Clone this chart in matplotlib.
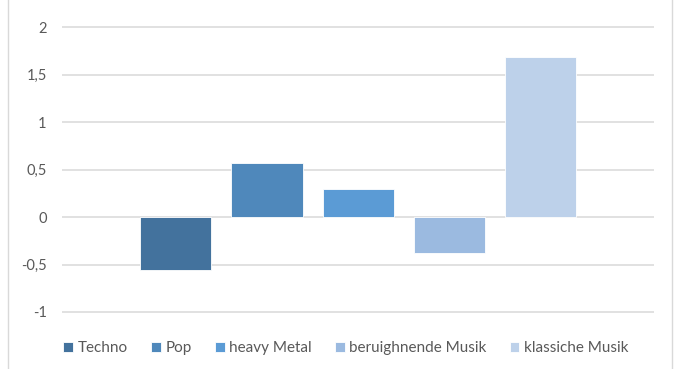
import matplotlib.pyplot as plt
from matplotlib.lines import Line2D
from matplotlib.ticker import FuncFormatter

# Daten
genres = ['Techno', 'Pop', 'heavy Metal', 'beruighnende Musik', 'klassiche Musik']
werte = [-0.56, 0.57, 0.295, -0.38, 1.69]
farben = ['#43729D', '#4F88BB', '#5B9BD5', '#9BBAE0', '#BDD1EA']
yticks = [-1, -0.5, 0, 0.5, 1, 1.5, 2]

plt.rcParams['font.family'] = ['Lato', 'DejaVu Sans']

fig = plt.figure(figsize=(6.74, 3.69), dpi=100)
ax = fig.add_axes([62 / 674, 0.129, (654 - 62) / 674, 0.848])

for i, (g, w, c) in enumerate(zip(genres, werte, farben)):
    ax.bar(i, w, width=0.78, color=c, edgecolor='#ffffff', linewidth=0.6,
           label=g, zorder=3)

ax.set_xlim(-1.246, 5.24)
ax.set_ylim(-1.1, 2.2)
ax.set_yticks(yticks)
ax.yaxis.set_major_formatter(FuncFormatter(lambda v, p: ('%g' % v).replace('.', ',')))
ax.set_xticks([])
ax.tick_params(axis='y', length=0, pad=11, labelsize=10.5, labelcolor='#595959')
ax.grid(axis='y', color='#D9D9D9', linewidth=1.1, zorder=0)
for s in ax.spines.values():
    s.set_visible(False)

fig.legend(loc='center', bbox_to_anchor=(346 / 674, 21 / 369), ncol=5,
           frameon=False, fontsize=11, handlelength=0.65, handleheight=0.65,
           handletextpad=0.3, columnspacing=1.5, labelcolor='#595959')

# Rahmen links/rechts
fig.add_artist(Line2D([8 / 674, 8 / 674], [0, 1], color='#D9D9D9', linewidth=1))
fig.add_artist(Line2D([672 / 674, 672 / 674], [0, 1], color='#D9D9D9', linewidth=1))

fig.savefig('out.png', dpi=100)
